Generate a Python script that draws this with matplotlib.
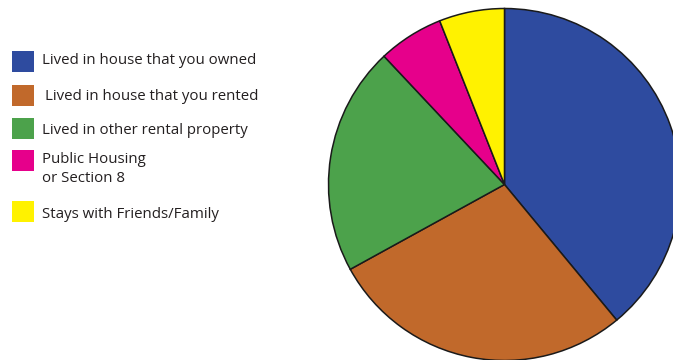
import matplotlib.pyplot as plt
from matplotlib.patches import Rectangle

labels = ['Lived in house that you owned',
          'Lived in house that you rented',
          'Lived in other rental property',
          'Public Housing\nor Section 8',
          'Stays with Friends/Family']
shares = [39, 28, 21, 6, 6]
colors = ['#2e4b9f', '#c1692b', '#4ca24b', '#e6008b', '#fff200']

# legend rows: (square centre y, text centre y) in pixels from the top
row_y = [61, 95, 128, 160, 211]
text_y = [61, 97, 130, 169, 214]
text_x = [42, 45, 42, 42, 42]

W, H = 673, 360
fig = plt.figure(figsize=(W / 100, H / 100), dpi=100)
ax = fig.add_axes([0, 0, 1, 1])

wedges, _ = ax.pie(shares, colors=colors, startangle=90, counterclock=False,
                   center=(504.5, H - 184.5), radius=176,
                   wedgeprops=dict(edgecolor='#1a1a1a', linewidth=1.1))
ax.set_xlim(0, W)
ax.set_ylim(0, H)
ax.set_aspect('equal')
ax.axis('off')

for w, lab, ry, ty, tx in zip(wedges, labels, row_y, text_y, text_x):
    ax.add_patch(Rectangle((12, H - ry - 10.5), 22, 21, facecolor=w.get_facecolor(),
                           edgecolor='none'))
    ax.text(tx, H - ty, lab, fontsize=10.8, family='Open Sans', color='#231f20',
            va='center', ha='left', linespacing=1.3)

fig.savefig('out.png', dpi=100)
